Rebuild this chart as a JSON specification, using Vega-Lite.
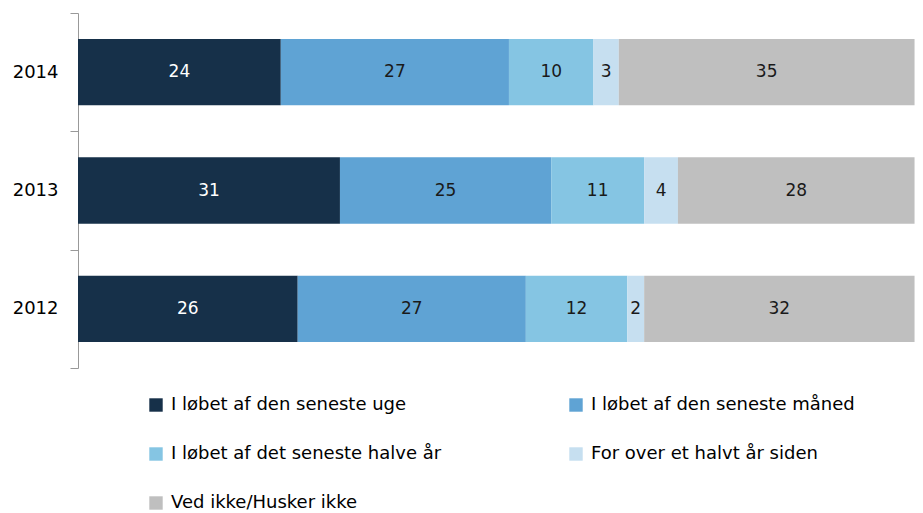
{
  "$schema": "https://vega.github.io/schema/vega-lite/v6.json",
  "autosize": "none",
  "padding": {"left": 78, "top": 13, "right": 0, "bottom": 145},
  "width": 845,
  "height": 355,
  "background": "white",
  "config": {"view": {"stroke": null}, "font": "DejaVu Sans"},
  "data": {"values": [
    {"year": "2014", "cat": "I løbet af den seneste uge", "value": 24},
    {"year": "2014", "cat": "I løbet af den seneste måned", "value": 27},
    {"year": "2014", "cat": "I løbet af det seneste halve år", "value": 10},
    {"year": "2014", "cat": "For over et halvt år siden", "value": 3},
    {"year": "2014", "cat": "Ved ikke/Husker ikke", "value": 35},
    {"year": "2013", "cat": "I løbet af den seneste uge", "value": 31},
    {"year": "2013", "cat": "I løbet af den seneste måned", "value": 25},
    {"year": "2013", "cat": "I løbet af det seneste halve år", "value": 11},
    {"year": "2013", "cat": "For over et halvt år siden", "value": 4},
    {"year": "2013", "cat": "Ved ikke/Husker ikke", "value": 28},
    {"year": "2012", "cat": "I løbet af den seneste uge", "value": 26},
    {"year": "2012", "cat": "I løbet af den seneste måned", "value": 27},
    {"year": "2012", "cat": "I løbet af det seneste halve år", "value": 12},
    {"year": "2012", "cat": "For over et halvt år siden", "value": 2},
    {"year": "2012", "cat": "Ved ikke/Husker ikke", "value": 32}
  ]},
  "transform": [
    {"calculate": "indexof(['I løbet af den seneste uge', 'I løbet af den seneste måned', 'I løbet af det seneste halve år', 'For over et halvt år siden', 'Ved ikke/Husker ikke'], datum.cat)", "as": "catOrder"}
  ],
  "encoding": {
    "y": {
      "field": "year", "type": "nominal", "sort": ["2014", "2013", "2012"],
      "scale": {"paddingInner": 0, "paddingOuter": 0},
      "axis": {
        "title": null, "tickBand": "extent", "tickSize": 8, "tickColor": "#999999",
        "domainColor": "#999999", "labelPadding": 12, "labelFontSize": 18,
        "labelColor": "#000000", "labelFont": "DejaVu Sans"
      }
    },
    "order": {"field": "catOrder", "type": "quantitative", "sort": "ascending"}
  },
  "layer": [
    {
      "mark": {"type": "bar", "height": {"band": 0.56}},
      "encoding": {
        "x": {"field": "value", "type": "quantitative", "stack": "zero",
              "scale": {"domain": [0, 99.6]}, "axis": null},
        "color": {
          "field": "cat", "type": "nominal",
          "sort": ["I løbet af den seneste uge", "I løbet af den seneste måned", "I løbet af det seneste halve år", "For over et halvt år siden", "Ved ikke/Husker ikke"],
          "scale": {
            "domain": ["I løbet af den seneste uge", "I løbet af den seneste måned", "I løbet af det seneste halve år", "For over et halvt år siden", "Ved ikke/Husker ikke"],
            "range": ["#163049", "#5fa3d4", "#85c5e3", "#c6dff0", "#bfbfbf"]
          },
          "legend": {
            "title": null, "orient": "none", "legendX": 69, "legendY": 383,
            "direction": "horizontal",
            "columns": 2, "columnPadding": 125, "rowPadding": 31,
            "symbolType": "square", "symbolSize": 180, "symbolStrokeWidth": 0,
            "labelFontSize": 18, "labelColor": "#000000", "labelFont": "DejaVu Sans",
            "labelLimit": 400, "labelOffset": 6
          }
        }
      }
    },
    {
      "mark": {"type": "text", "fontSize": 17, "font": "DejaVu Sans"},
      "encoding": {
        "x": {"field": "value", "type": "quantitative", "stack": "zero", "bandPosition": 0.5},
        "detail": {"field": "cat", "type": "nominal"},
        "text": {"field": "value", "type": "quantitative"},
        "color": {
          "condition": {"test": "datum.cat === 'I løbet af den seneste uge'", "value": "#ffffff"},
          "value": "#1a1a1a"
        }
      }
    }
  ]
}
